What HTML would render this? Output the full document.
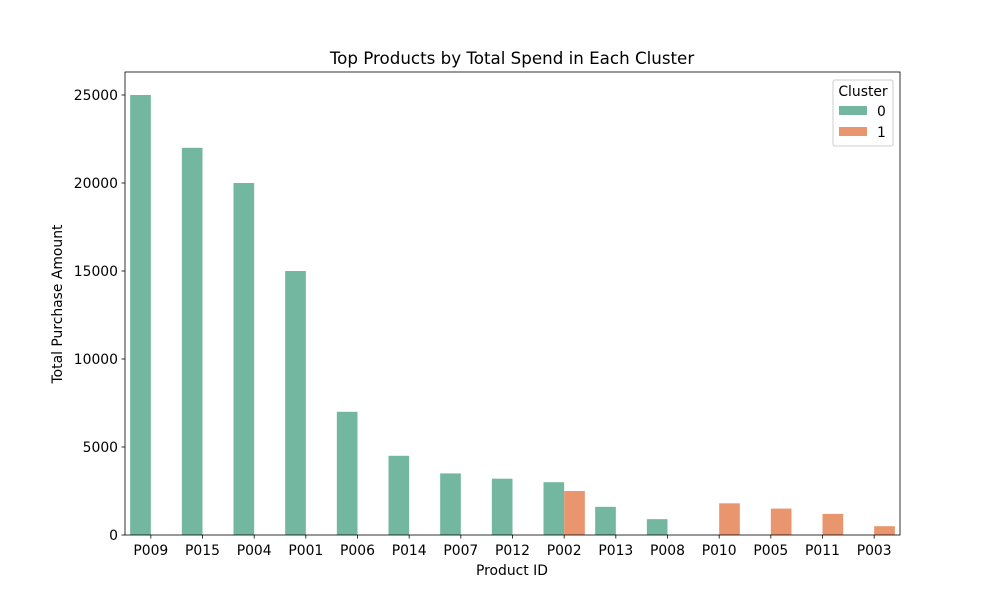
<!DOCTYPE html>
<html><head><meta charset="utf-8"><style>
body{margin:0;background:#fff;font-family:"Liberation Sans","DejaVu Sans",sans-serif}
text{font-family:"DejaVu Sans","Liberation Sans",sans-serif}
</style></head><body>
<svg id="chart" width="1000" height="600" xmlns="http://www.w3.org/2000/svg">
<rect width="1000" height="600" fill="#fff"/>
<g id="marks"></g>
<g id="axes"></g>
</svg>
<script>
const categories=["P009","P015","P004","P001","P006","P014","P007","P012","P002","P013","P008","P010","P005","P011","P003"];
const cluster0=[25000,22000,20000,15000,7000,4500,3500,3200,3000,1600,900,null,null,null,null];
const cluster1=[null,null,null,null,null,null,null,null,2500,null,null,1800,1500,1200,500];
const yTicks=[0,5000,10000,15000,20000,25000];
const L=125,R=900,T=72,B=535;
const yMax=26307;
const y=v=>B-(v/yMax)*(B-T);
const band=(R-L)/categories.length;
const x=i=>L+band*i;
const bw=band*0.4;
const NS="http://www.w3.org/2000/svg";
const marks=document.getElementById('marks'),axes=document.getElementById('axes');
function mk(tag,attrs,parent,txt){const e=document.createElementNS(NS,tag);for(const k in attrs)e.setAttribute(k,attrs[k]);if(txt!==undefined)e.textContent=txt;parent.appendChild(e);return e;}
const colors=["#73b7a0","#e9956e"];
[cluster0,cluster1].forEach((series,s)=>{series.forEach((v,i)=>{if(v==null)return;
const r=mk('rect',{x:x(i)+band*0.1+s*bw,y:y(v),width:bw,height:B-y(v),fill:colors[s]},marks);

});});
mk('rect',{x:L,y:T,width:R-L,height:B-T,fill:'none',stroke:'#000','stroke-width':0.8},axes);
yTicks.forEach(t=>{mk('line',{x1:L-3.5,x2:L,y1:y(t),y2:y(t),stroke:'#000','stroke-width':0.8},axes);
const tx=mk('text',{x:L-7,y:y(t)+5,'text-anchor':'end','font-size':13.9},axes,String(t));

});
categories.forEach((c,i)=>{const cx=x(i)+band/2;mk('line',{x1:cx,x2:cx,y1:B,y2:B+3.5,stroke:'#000','stroke-width':0.8},axes);
const tx=mk('text',{x:cx,y:B+20,'text-anchor':'middle','font-size':13.9},axes,c);

});
</script>
<svg style="position:absolute;left:0;top:0" width="1000" height="600" xmlns="http://www.w3.org/2000/svg">
<text x="512" y="64" text-anchor="middle" font-size="16.7">Top Products by Total Spend in Each Cluster</text>
<text x="512" y="575" text-anchor="middle" font-size="13.9">Product ID</text>
<text x="0" y="0" transform="translate(62,304) rotate(-90)" text-anchor="middle" font-size="13.9">Total Purchase Amount</text>
<g>
<rect x="833" y="80" width="60" height="66" rx="2" fill="#fff" fill-opacity="0.8" stroke="#ccc"/>
<text x="863" y="96" text-anchor="middle" font-size="13.9">Cluster</text>
<rect x="839" y="106" width="28" height="9" fill="#73b7a0"/>
<text x="877" y="116" font-size="13.9">0</text>
<rect x="839" y="127" width="28" height="9" fill="#e9956e"/>
<text x="877" y="137" font-size="13.9">1</text>
</g>
</svg>
</body></html>
